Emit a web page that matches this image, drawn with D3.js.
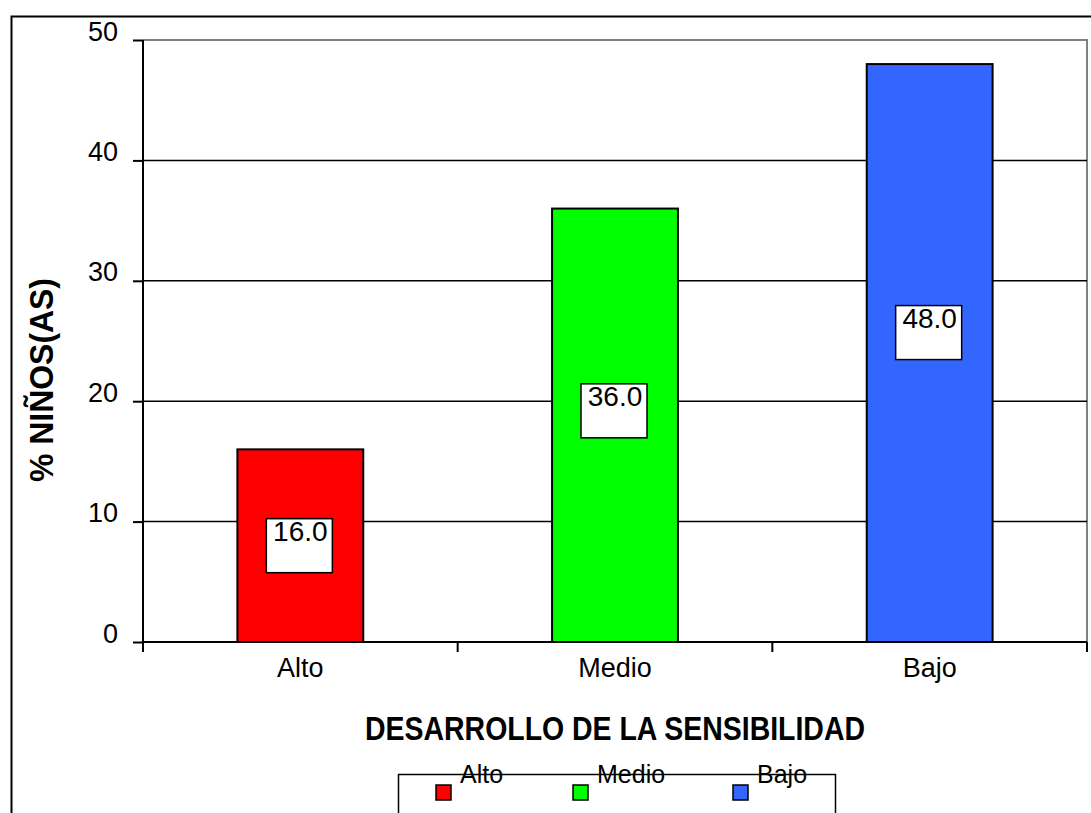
<!DOCTYPE html>
<html><head><meta charset="utf-8">
<script src="https://cdn.jsdelivr.net/npm/d3@7"></script>
<style>body{margin:0;background:#fff}svg{display:block;font-family:Arial,"Liberation Sans",sans-serif}</style>
</head><body>
<svg id="c" width="1091" height="813"></svg>
<script>
const categories = ["Alto", "Medio", "Bajo"];
const values = [16.0, 36.0, 48.0];
const labelAnchors = [8.0, 19.2, 25.7];
const colors = ["#FF0000", "#00FF00", "#3366FF"];
const yTicks = [0, 10, 20, 30, 40, 50];
const yTitle = "% NIÑOS(AS)";
const xTitle = "DESARROLLO DE LA SENSIBILIDAD";

const svg = d3.select("#c");
const L = 143, R = 1087, T = 40, B = 642;
const x = d3.scaleBand().domain(categories).range([L, R]).paddingInner(0.6).paddingOuter(0.3);
const y = d3.scaleLinear().domain([0, 50]).range([B, T]);

// outer frame
svg.append("rect").attr("x", 11.5).attr("y", 16.5).attr("width", 1200).attr("height", 1000)
  .attr("fill", "none").attr("stroke", "#000").attr("stroke-width", 2);

// plot border (gray)
svg.append("path").attr("d", `M${L},${T}H${R}V${B}`).attr("fill", "none").attr("stroke", "#808080").attr("stroke-width", 2);

// gridlines
svg.append("g").selectAll("line").data(yTicks.filter(d => d > 0 && d < 50)).join("line")
  .attr("x1", L).attr("x2", R).attr("y1", d => y(d)).attr("y2", d => y(d))
  .attr("stroke", "#000").attr("stroke-width", 1.5);

// bars
svg.append("g").selectAll("rect").data(values).join("rect")
  .attr("x", (d, i) => x(categories[i])).attr("width", x.bandwidth())
  .attr("y", d => y(d)).attr("height", d => B - y(d))
  .attr("fill", (d, i) => colors[i]).attr("stroke", "#000").attr("stroke-width", 2);

// y axis
const yAxis = svg.append("g").attr("transform", `translate(${L},0)`)
  .call(d3.axisLeft(y).tickValues(yTicks).tickSize(10).tickPadding(15).tickFormat(d3.format("d")));
yAxis.select(".domain").remove();
yAxis.selectAll(".tick line").attr("stroke", "#000").attr("stroke-width", 2);
yAxis.selectAll(".tick text").attr("font-size", 27).attr("fill", "#000").attr("dy", "0");
svg.append("line").attr("x1", L).attr("x2", L).attr("y1", T).attr("y2", B + 10).attr("stroke", "#000").attr("stroke-width", 2);

// x axis
svg.append("line").attr("x1", L).attr("x2", R).attr("y1", B).attr("y2", B).attr("stroke", "#000").attr("stroke-width", 2);
const bounds = [L, L + (R - L) / 3, L + 2 * (R - L) / 3, R];
svg.append("g").selectAll("line").data(bounds).join("line")
  .attr("x1", d => d).attr("x2", d => d).attr("y1", B).attr("y2", B + 10)
  .attr("stroke", "#000").attr("stroke-width", 2);
svg.append("g").selectAll("text").data(categories).join("text")
  .attr("x", d => x(d) + x.bandwidth() / 2).attr("y", 677)
  .attr("text-anchor", "middle").attr("font-size", 27).text(d => d);

// value labels
const lab = svg.append("g").selectAll("g").data(values).join("g")
  .attr("transform", (d, i) => `translate(${x(categories[i]) + x.bandwidth() / 2},${y(labelAnchors[i])})`);
lab.append("rect").attr("x", -34).attr("y", -27).attr("width", 66).attr("height", 54)
  .attr("fill", "#fff").attr("stroke", "#000").attr("stroke-width", 1.5);
lab.append("text").attr("x", 0).attr("y", -5).attr("text-anchor", "middle")
  .attr("font-size", 28).text(d => d.toFixed(1));

// axis titles
svg.append("text").attr("transform", "translate(53,380) rotate(-90)").attr("text-anchor", "middle")
  .attr("font-size", 34).attr("font-weight", "bold")
  .attr("textLength", 204).attr("lengthAdjust", "spacingAndGlyphs").text(yTitle);
svg.append("text").attr("x", 615).attr("y", 740).attr("text-anchor", "middle")
  .attr("font-size", 34).attr("font-weight", "bold")
  .attr("textLength", 500).attr("lengthAdjust", "spacingAndGlyphs").text(xTitle);

// legend
svg.append("rect").attr("x", 398.5).attr("y", 774.5).attr("width", 437).attr("height", 40)
  .attr("fill", "#fff").attr("stroke", "#000").attr("stroke-width", 1.5);
const legX = [436, 573, 733];
const lg = svg.append("g").selectAll("g").data(categories).join("g")
  .attr("transform", (d, i) => `translate(${legX[i]},785)`);
lg.append("rect").attr("width", 15).attr("height", 15).attr("fill", (d, i) => colors[i])
  .attr("stroke", "#000").attr("stroke-width", 1.5);
lg.append("text").attr("x", 24).attr("y", -2).attr("font-size", 25).text(d => d);
</script>
</body></html>
